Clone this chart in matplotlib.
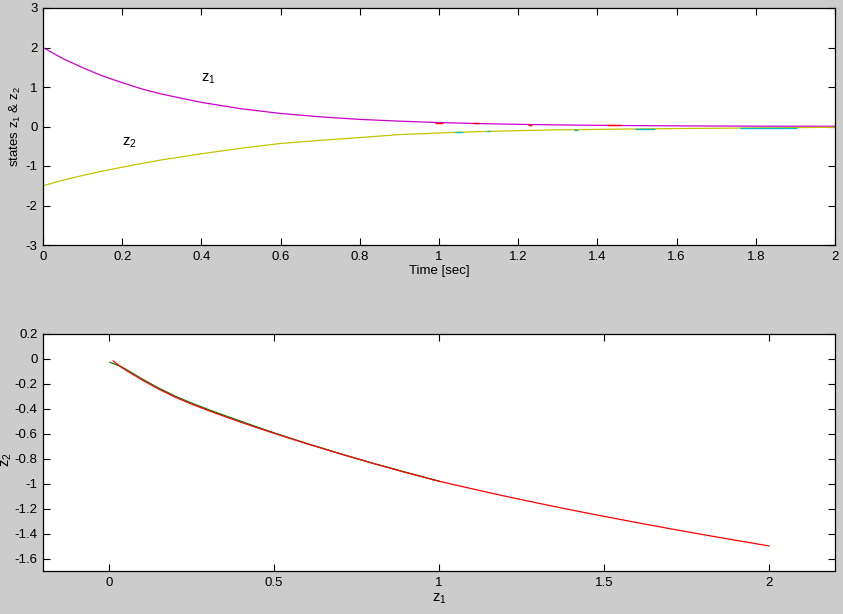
import matplotlib
matplotlib.use("Agg")
import matplotlib.pyplot as plt
from matplotlib.ticker import FuncFormatter

# ---------------- data ----------------
t = [0.0, 0.05, 0.1, 0.15, 0.2, 0.25, 0.3, 0.4, 0.5, 0.6, 0.7, 0.8, 0.9, 1.0,
     1.1, 1.2, 1.3, 1.4, 1.5, 1.6, 1.7, 1.8, 1.9, 2.0]
z1 = [2.00, 1.72, 1.49, 1.28, 1.11, 0.95, 0.82, 0.61, 0.45, 0.33, 0.245, 0.18,
      0.135, 0.10, 0.074, 0.055, 0.041, 0.030, 0.022, 0.016, 0.012, 0.009, 0.007, 0.005]
z2 = [-1.50, -1.36, -1.24, -1.13, -1.03, -0.935, -0.845, -0.69, -0.55, -0.43,
      -0.35, -0.28, -0.205, -0.165, -0.13, -0.105, -0.085, -0.072, -0.062,
      -0.052, -0.044, -0.036, -0.028, -0.02]

# short overlaid segments of other colours (start t, end t, value)
red_t0 = [0.99, 1.085, 1.225, 1.425]
red_t1 = [1.01, 1.10, 1.235, 1.46]
red_v = [0.10, 0.076, 0.050, 0.027]
cyan_t0 = [1.04, 1.12, 1.34, 1.495, 1.76]
cyan_t1 = [1.06, 1.13, 1.35, 1.545, 1.905]
cyan_v = [-0.15, -0.125, -0.08, -0.062, -0.036]

# phase plane
phase_red_z1 = [0.013, 0.036, 0.05, 0.1, 0.15, 0.2, 0.25, 0.3, 0.35, 0.4,
                0.45, 0.5, 0.6, 0.7, 0.8, 0.9, 1.0, 1.1, 1.2, 1.3, 1.4, 1.5,
                1.6, 1.7, 1.8, 1.9, 2.0]
phase_red_z2 = [-0.016, -0.064, -0.088, -0.168, -0.2405, -0.3055, -0.3615,
                -0.4125, -0.461, -0.5075, -0.5525, -0.596, -0.680, -0.760,
                -0.837, -0.911, -0.980, -1.041, -1.100, -1.156, -1.210,
                -1.262, -1.312, -1.361, -1.408, -1.454, -1.499]
phase_green_z1 = [0.003, 0.036, 0.05, 0.1, 0.15, 0.2, 0.25, 0.3, 0.35, 0.4,
                  0.45, 0.5, 0.6, 0.7, 0.8, 1.0]
phase_green_z2 = [-0.027, -0.060, -0.081, -0.160, -0.2325, -0.2975, -0.3535,
                  -0.4045, -0.453, -0.4995, -0.5465, -0.592, -0.678, -0.759,
                  -0.837, -0.980]

top_xticks = [0, 0.2, 0.4, 0.6, 0.8, 1.0, 1.2, 1.4, 1.6, 1.8, 2.0]
top_yticks = [-3, -2, -1, 0, 1, 2, 3]
bot_xticks = [0, 0.5, 1, 1.5, 2]
bot_yticks = [0.2, 0, -0.2, -0.4, -0.6, -0.8, -1, -1.2, -1.4, -1.6]

# ---------------- style ----------------
plt.rcParams['font.family'] = ['Liberation Sans', 'DejaVu Sans']
plt.rcParams['mathtext.default'] = 'regular'
plt.rcParams['axes.unicode_minus'] = False
FS = 9.5

fig = plt.figure(figsize=(8.43, 6.14), dpi=100, facecolor='#cccccc')

def style(ax):
    ax.set_facecolor('white')
    for s in ax.spines.values():
        s.set_linewidth(0.9)
        s.set_color('black')
    ax.tick_params(direction='in', length=5, width=0.8, top=True, right=True,
                   labelsize=FS, colors='black', pad=4)
    ax.xaxis.set_major_formatter(FuncFormatter(lambda v, p: '%g' % round(v, 6)))
    ax.yaxis.set_major_formatter(FuncFormatter(lambda v, p: '%g' % round(v, 6)))

W, H = 843, 614
L, R = 43, 835
ax1 = fig.add_axes([L / W, 1 - 245 / H, (R - L) / W, (245 - 8) / H])
ax2 = fig.add_axes([L / W, 1 - 571 / H, (R - L) / W, (571 - 334) / H])

# top plot
ax1.plot(t, z1, color='#cc00cc', lw=0.9)
ax1.plot(t, z2, color='#c4c400', lw=0.9)
ax1.hlines(red_v, red_t0, red_t1, color='#ff0000', lw=1.0)
ax1.hlines(cyan_v, cyan_t0, cyan_t1, color='#00bfbf', lw=1.0)
ax1.set_xlim(0, 2)
ax1.set_ylim(-3, 3)
ax1.set_xticks(top_xticks)
ax1.set_yticks(top_yticks)
style(ax1)
ax1.set_xlabel('Time [sec]', fontsize=FS, labelpad=2)
ax1.set_ylabel('states z$_1$ & z$_2$', fontsize=FS)
ax1.yaxis.set_label_coords(-0.025, 0.5)
ax1.text(0.4, 1.2, 'z$_1$', fontsize=10.5, va='center', ha='left')
ax1.text(0.2, -0.4, 'z$_2$', fontsize=10.5, va='center', ha='left')

# bottom plot
ax2.plot(phase_green_z1, phase_green_z2, color='#008000', lw=0.9)
ax2.plot(phase_red_z1, phase_red_z2, color='#ff0000', lw=0.9)
ax2.set_xlim(-0.2, 2.2)
ax2.set_ylim(-1.7, 0.2)
ax2.set_xticks(bot_xticks)
ax2.set_yticks(bot_yticks)
style(ax2)
ax2.set_xlabel('z$_1$', fontsize=10.5, labelpad=2)
ax2.set_ylabel('z$_2$', fontsize=10.5)
ax2.yaxis.set_label_coords(-0.036, 0.47)

fig.savefig('out.png', dpi=100, facecolor=fig.get_facecolor())
